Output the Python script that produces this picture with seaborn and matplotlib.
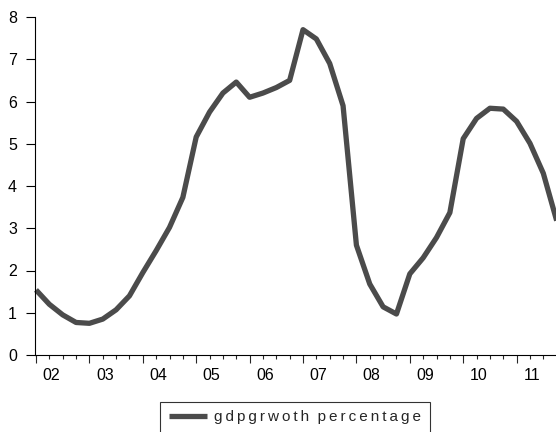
import numpy as np
import pandas as pd
import matplotlib
matplotlib.use("Agg")
import matplotlib.pyplot as plt
import matplotlib.transforms as mtransforms
from matplotlib.ticker import MultipleLocator
import seaborn as sns

# quarterly gdp growth (%), 2002 Q1 .. 2011 Q4
growth = [1.54, 1.20, 0.95, 0.77, 0.75, 0.85, 1.07, 1.40,
          1.95, 2.47, 3.02, 3.73, 5.16, 5.75, 6.20, 6.46,
          6.10, 6.20, 6.33, 6.50, 7.70, 7.48, 6.90, 5.90,
          2.60, 1.68, 1.14, 0.97, 1.92, 2.30, 2.78, 3.37,
          5.12, 5.60, 5.84, 5.82, 5.53, 5.01, 4.30, 3.18]
years = ["02", "03", "04", "05", "06", "07", "08", "09", "10", "11"]
# the legend text is letter-spaced in the original
series_name = "  ".join("\u2009".join(w) for w in ["gdpgrwoth", "percentage"])

df = pd.DataFrame({"quarter": range(len(growth)), "growth": growth})

sns.set_style("ticks")
plt.rcParams['font.family'] = ['Liberation Sans', 'DejaVu Sans']

fig = plt.figure(figsize=(5.56, 4.32), dpi=100)
ax = fig.add_axes([35 / 556, 77 / 432, 521 / 556, 338 / 432])

sns.lineplot(data=df, x="quarter", y="growth", ax=ax, color="#4b4b4b",
             linewidth=3.8, label=series_name, legend=False, clip_on=False)

ax.set_ylim(0, 8)
ax.set_xlim(-0.075, 38.95)
ax.yaxis.set_major_locator(MultipleLocator(1))
ax.xaxis.set_major_locator(MultipleLocator(4))
ax.xaxis.set_minor_locator(MultipleLocator(1))
ax.set_xticklabels([])
ax.tick_params(axis="y", length=6.5, width=0.8, pad=6.5, labelsize=11.5, colors="black")
ax.tick_params(axis="x", which="major", length=6, width=0.8)
ax.tick_params(axis="x", which="minor", length=3, width=0.8)
ax.set_xlabel("")
ax.set_ylabel("")
sns.despine(ax=ax)
for s in ["left", "bottom"]:
    ax.spines[s].set_color("black")
    ax.spines[s].set_linewidth(0.8)

# year labels sit a bit right of each year's first quarter
trans = mtransforms.blended_transform_factory(ax.transData, ax.transAxes)
offset = mtransforms.ScaledTranslation(0, -9 / 72, fig.dpi_scale_trans)
for i, yr in enumerate(years):
    ax.text(4 * i + 1.15, 0, yr, transform=trans + offset, ha="center",
            va="top", fontsize=11.5, color="black")

handles, labels = ax.get_legend_handles_labels()
handles[0].set_solid_capstyle("butt")
leg = fig.legend(handles, labels, loc="upper center",
                 bbox_to_anchor=(295 / 556, 30 / 432), fontsize=11,
                 frameon=True, fancybox=False, edgecolor="black",
                 handlelength=2.5, handletextpad=0.5, borderpad=0.55,
                 borderaxespad=0)
leg.get_frame().set_linewidth(0.8)

fig.savefig("out.png", dpi=100)
